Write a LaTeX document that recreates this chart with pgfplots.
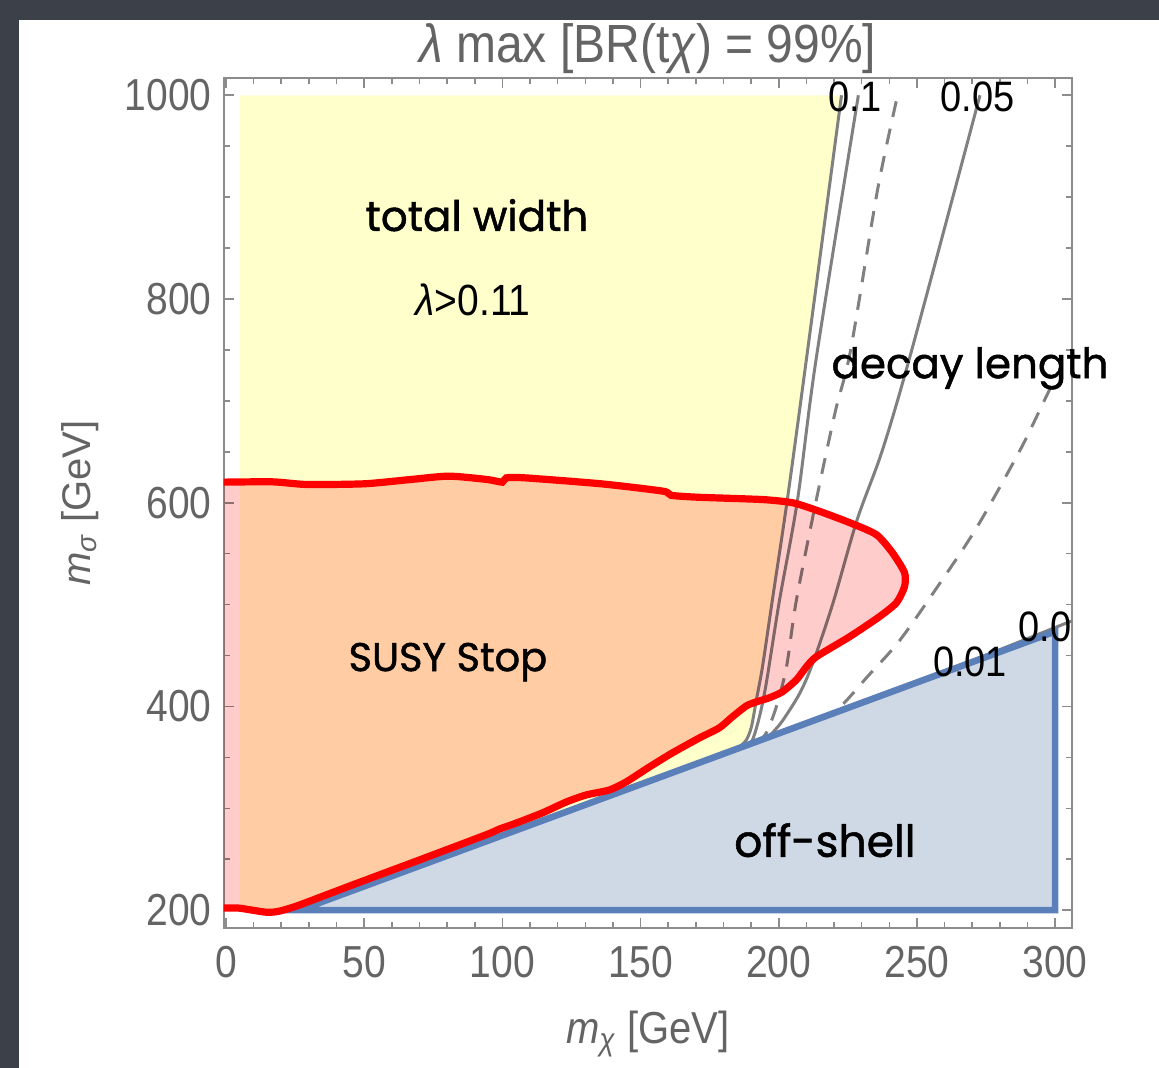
\documentclass[border=0pt]{standalone}
\usepackage{fontspec}
\setmainfont{Liberation Sans}
\newfontfamily\hand{Poppins}[FakeBold=1.2]
\usepackage{pgfplots}
\pgfplotsset{compat=1.18}
\definecolor{bgdark}{RGB}{60,64,72}
\definecolor{yel}{RGB}{255,255,204}
\definecolor{pnk}{RGB}{255,204,204}
\definecolor{bfill}{RGB}{207,217,230}
\definecolor{bedge}{RGB}{91,127,184}
\definecolor{framec}{RGB}{140,140,140}
\definecolor{txtg}{RGB}{100,100,100}
\definecolor{contg}{RGB}{128,128,128}
\begin{document}
\begin{tikzpicture}
\useasboundingbox (0,0) rectangle (579.5pt,534pt);
\fill[bgdark] (0,0) rectangle (579.5pt,534pt);
\fill[white] (9.5pt,0) rectangle (579.5pt,524pt);
\begin{axis}[
  at={(111.75pt,70pt)}, anchor=south west,
  scale only axis, width=424.25pt, height=425pt,
  xmin=-0.9, xmax=306.1, ymin=182.5, ymax=1017,
  axis line style={draw=framec, line width=1pt},
  tick style={draw=framec, line width=0.8pt},
  major tick length=5pt, minor tick length=3pt,
  xtick={0,50,100,150,200,250,300},
  xticklabels={0,50,100,150,200,250,300},
  minor x tick num=4,
  ytick={200,400,600,800,1000},
  yticklabels={200,400,600,800,1000},
  minor y tick num=3,
  tick label style={font=\fontsize{19.5}{22}\selectfont, text=txtg, transform shape, yscale=1.15},
  xticklabel style={yshift=-4.5pt},
  yticklabel style={xshift=-2.5pt},
  clip mode=individual,
  title={\textit{λ} max [BR(t\textit{χ}) = 99\%]},
  title style={at={(axis description cs:0.5,1.021)}, anchor=center, font=\fontsize{24}{28}\selectfont, text=txtg, transform shape, yscale=1.12},
  xlabel={\textit{m}\textsubscript{\textit{χ}} [GeV]},
  xlabel style={at={(axis description cs:0.5,-0.125)}, anchor=center, font=\fontsize{20}{24}\selectfont, text=txtg, transform shape, yscale=1.12},
  ylabel={\textit{m}\textsubscript{\textit{σ}} [GeV]},
  ylabel style={at={(axis description cs:-0.169,0.5)}, anchor=center, font=\fontsize{20}{24}\selectfont, text=txtg},
]
% total width region
\addplot[fill=yel, draw=none] coordinates {(5,200) (26.6,200) (185,358.6) (186.5,362) (188.3,367.2) (190.1,379.9) (191.9,406.5) (194.1,438.9) (197.7,504.8) (203.1,603.1) (210,740.8) (222.7,1000) (5,1000)} -- cycle;
% contours
\addplot[contg, line width=1.5pt, smooth, tension=0.5] coordinates {(185,358.6) (186.5,362) (188.3,367.2) (190.1,379.9) (191.9,406.5) (194.1,438.9) (197.7,504.8) (203.1,603.1) (210,740.8) (222.7,1000)};
\addplot[contg, line width=1.5pt, smooth, tension=0.5] coordinates {(186.5,360.1) (188.5,363) (190.5,367.2) (193,389.8) (195.5,423.2) (200.3,504.8) (206.8,603) (213.5,740.8) (228.8,1000)};
\addplot[contg, line width=1.5pt, smooth, tension=0.5, dash pattern=on 8pt off 6pt] coordinates {(191.5,365.3) (193,367.5) (195.5,374) (199.1,399.6) (202.8,438.9) (206.4,504.8) (213.6,603) (220.5,690) (226,750) (235.8,908) (243,1000)};
\addplot[contg, line width=1.5pt, smooth, tension=0.5] coordinates {(195.7,369.3) (198,375) (201.5,386.5) (207.6,413) (212.3,442.5) (219.6,501.4) (228.3,582.9) (237.5,651.6) (248.1,749.8) (272.8,1000)};
\addplot[contg, line width=1.5pt, smooth, tension=0.5, dash pattern=on 8pt off 6pt] coordinates {(214.8,388.4) (222.1,399.3) (231.9,428.7) (243.8,465) (258.3,521) (271.7,576) (287.3,651.6) (295.6,697.7) (301,728)};
\addplot[contg, line width=1.5pt] coordinates {(214.8,388.4) (250,424.2) (280,455.8) (306,484)};
% SUSY stop region fill
\addplot[fill=pnk, draw=none, blend mode=multiply, smooth, tension=0.4] coordinates {(-1,620.2) (16.9,620.5) (29.3,617.9) (50.1,618.6) (66.8,622.8) (80.6,626.1) (94.5,622.8) (100,620.2) (101.4,624.4) (108.3,624.4) (136,618.5) (158.2,611.3) (161,607.3) (170.7,605.4) (194.2,603.1) (205.3,599.8) (214.7,591.6) (225.6,580.5) (235.3,568.7) (241.1,551) (245.5,531.4) (245.5,517.6) (242.6,501.9) (236.4,488.1) (225.6,468.4) (213.6,448.8) (210,438.9) (206.4,426.2) (201.3,414.4) (196.6,408.5) (191.9,404.5) (188.3,400.6) (183.2,389.8) (178.5,379) (171.3,369.1) (161.5,354.4) (153.2,340.6) (144.8,325.9) (138.7,318) (130.3,313.1) (123.1,306.2) (114.4,295.4) (105,285.5) (98.8,279.5) (94.1,274) (69.9,249.2) (45.6,224.6) (26.4,204.9) (19.2,199) (14.5,198) (4.7,202) (-1,202)} -- cycle;
% off-shell region
\addplot[fill=bfill, draw=bedge, line width=3.3pt, line join=miter] coordinates {(26.6,200) (300,473.6) (300,200)} -- cycle;
% SUSY stop boundary
\addplot[red, line width=3.6pt, smooth, tension=0.4] coordinates {(-1,620.2) (16.9,620.5) (29.3,617.9) (50.1,618.6) (66.8,622.8) (80.6,626.1) (94.5,622.8) (100,620.2) (101.4,624.4) (108.3,624.4) (136,618.5) (158.2,611.3) (161,607.3) (170.7,605.4) (194.2,603.1) (205.3,599.8) (214.7,591.6) (225.6,580.5) (235.3,568.7) (241.1,551) (245.5,531.4) (245.5,517.6) (242.6,501.9) (236.4,488.1) (225.6,468.4) (213.6,448.8) (210,438.9) (206.4,426.2) (201.3,414.4) (196.6,408.5) (191.9,404.5) (188.3,400.6) (183.2,389.8) (178.5,379) (171.3,369.1) (161.5,354.4) (153.2,340.6) (144.8,325.9) (138.7,318) (130.3,313.1) (123.1,306.2) (114.4,295.4) (105,285.5) (98.8,279.5) (94.1,274) (69.9,249.2) (45.6,224.6) (26.4,204.9) (19.2,199) (14.5,198) (4.7,202) (-1,202)};
% labels
\node[font=\fontsize{19}{22}\selectfont, transform shape, yscale=1.12] at (axis cs:227.6,998) {0.1};
\node[font=\fontsize{19}{22}\selectfont, transform shape, yscale=1.12] at (axis cs:272,998) {0.05};
\node[font=\fontsize{19}{22}\selectfont, transform shape, yscale=1.12] at (axis cs:296.3,478) {0.0};
\node[font=\fontsize{19}{22}\selectfont, transform shape, yscale=1.12] at (axis cs:269.2,443.5) {0.01};
\node[font=\fontsize{19.5}{22}\selectfont, transform shape, yscale=1.12] at (axis cs:89.4,799) {\textit{λ}>0.11};
\node[font=\hand\fontsize{21}{24}\selectfont] at (axis cs:90.8,882.3) {total width};
\node[font=\hand\fontsize{20}{24}\selectfont] at (axis cs:80.3,443.5) {SUSY Stop};
\node[font=\hand\fontsize{21}{24}\selectfont] at (axis cs:269.2,732) {decay length};
\node[font=\hand\fontsize{22}{24}\selectfont] at (axis cs:216.7,268.7) {off-shell};
\end{axis}
\end{tikzpicture}
\end{document}
